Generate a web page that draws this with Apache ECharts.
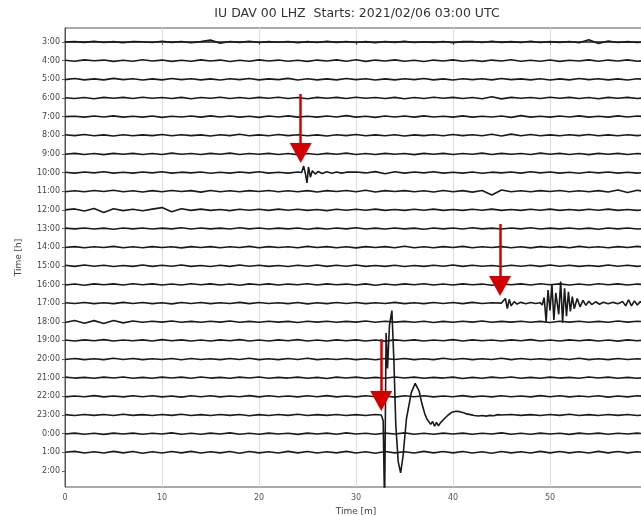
<!DOCTYPE html>
<html>
<head>
<meta charset="utf-8">
<script src="https://cdn.jsdelivr.net/npm/echarts@6/dist/echarts.min.js"></script>
<style>
  html, body { margin: 0; padding: 0; background: #fff; }
  #chart { width: 641px; height: 516px; }
</style>
</head>
<body>
<div id="chart"></div>
<script>
// 每条迹线的起始时刻（每小时一行）
var hours = ['3:00', '4:00', '5:00', '6:00', '7:00', '8:00', '9:00', '10:00', '11:00', '12:00',
  '13:00', '14:00', '15:00', '16:00', '17:00', '18:00', '19:00', '20:00', '21:00', '22:00',
  '23:00', '0:00', '1:00', '2:00'];
var minuteTicks = [0, 10, 20, 30, 40, 50];

// 背景噪声，每分钟一个值（单位：行距的百分之一，向上为正）
var n0  = [0,3,-2,4,-3,2,-4,3,1,-3, 4,-2,3,-4,2,10,-7,3,-2,4, -3,2,-1,3,-4,2,-3,4,-2,3, -3,2,-4,3,-2,4,-3,1,-2,3, -4,2,3,-3,4,-2,2,-3,4,-3, 2,-2,3,-4,12,-8,5,-3,2,-3, 1];
var n1  = [2,-3,4,-1,3,-4,2,-3,5,-2, 3,-4,2,-3,4,-2,3,-5,2,-3, 4,-2,3,-3,2,-4,3,-2,4,-3, 5,-4,3,-2,4,-3,2,-5,3,-2, 4,-3,2,-4,3,-2,5,-3,2,-3, 3,-4,2,-2,4,-3,3,-2,4,-3, 2];
var n2  = [-2,4,-3,2,-3,5,-2,3,-4,2, -3,4,-2,3,-3,2,-4,3,-2,4, -3,2,-2,5,-4,3,-3,2,-3,4, -2,3,-4,2,-3,3,-2,4,-3,2, -4,3,-2,3,-3,4,-2,2,-3,3, -4,2,-3,4,-2,3,-3,2,-4,3, -2];
var n3  = [1,-3,2,-4,3,-2,3,-3,4,-2, 2,-3,3,-4,2,-2,4,-3,2,-3, 3,-2,4,-3,2,-4,3,-2,3,-3, 4,-2,2,-3,3,-4,2,-3,4,-2, 3,-3,2,-4,6,-5,3,-2,2,-3, 4,-2,3,-3,2,-4,3,-2,3,-3, 2];
var n4  = [0,2,-3,3,-2,4,-3,2,-3,3, -4,2,-2,3,-3,4,-2,3,-3,2, -4,3,-2,4,-3,2,-3,3,-2,5, -3,2,-4,3,-2,3,-3,4,-2,2, -3,4,-3,2,-2,3,-4,5,-3,2, -3,3,-2,4,-3,2,-3,4,-2,3, -2];
var n5  = [3,-2,4,-3,2,-4,3,-3,2,-2, 4,-3,3,-2,2,-4,3,-2,5,-3, 2,-3,4,-2,3,-3,2,-4,3,-2, 4,-3,2,-3,3,-4,2,-2,3,-3, 4,-2,3,-3,5,-4,6,-3,4,-3, 2,-3,3,-2,4,-3,2,-3,3,-2, 4];
var n6  = [-2,3,-3,2,-4,3,-2,3,-3,2, -3,4,-2,2,-3,3,-2,4,-3,2, -2,3,-3,2,-4,2,-3,3,-2,4, -3,2,-3,3,-2,2,-4,3,-2,3, -3,2,-2,4,-3,3,-2,2,-3,4, -2,3,-3,2,-4,3,-2,3,-3,2, -3];
var n7  = [2,-3,3,-2,4,-3,2,-3,3,-2, 4,-3,2,-2,3,-4,2,-3,3,-2, 4,-3,2,-3,3,-2,4,-3,2,-3, 3,-2,5,-6,4,-3,3,-2,4,-3, 2,-3,3,-4,2,-2,3,-3,4,-2, 3,-3,2,-4,3,-2,3,-3,2,-3, 2];
var n8  = [-3,2,-3,4,-2,5,-3,2,-4,3, -3,4,-2,3,-5,4,-3,2,-3,3, -2,4,-3,2,-3,3,-4,3,-2,4, -3,5,-4,3,-2,3,-3,2,-4,4, -3,3,-5,4,-20,6,-3,2,-3,3, -2,4,-3,2,-3,3,-4,6,-7,5, -3];
var n9  = [0,5,-6,7,-14,6,-4,3,-5,4, 12,-10,6,-3,4,-3,2,-4,3,-2, 3,-3,4,-2,3,-3,2,-4,3,-2, 3,-2,4,-3,2,-3,3,-2,4,-3, 2,-3,3,-2,4,-3,2,-3,3,-2, 4,-3,2,-3,3,-2,4,-3,2,-3, 3];
var n10 = [2,-2,3,-3,2,-4,3,-2,3,-3, 2,-2,4,-3,3,-2,2,-3,4,-2, 3,-3,2,-2,3,-4,2,-3,3,-2, 4,-3,2,-3,3,-2,2,-4,3,-2, 3,-3,4,-2,2,-3,3,-2,4,-3, 2,-2,3,-3,2,-4,3,-2,3,-3, 2];
var n11 = [-2,3,-3,2,-2,4,-3,2,-3,3, -2,2,-4,3,-2,3,-3,2,-2,4, -3,3,-2,2,-3,4,-2,3,-3,2, -4,3,-2,3,-3,5,-3,2,-3,3, -2,4,-3,2,-2,3,-3,2,-4,3, -2,3,-3,4,-2,2,-3,3,-2,4, -3];
var n12 = [3,-3,4,-2,3,-4,2,-3,4,-3, 3,-2,4,-3,2,-4,3,-3,4,-2, 3,-3,2,-4,3,-2,4,-3,3,-2, 4,-3,2,-3,3,-4,2,-3,3,-2, 4,-3,3,-2,2,-4,3,-2,3,-3, 4,-2,3,-3,2,-3,4,-2,3,-3, 2];
var n13 = [-3,2,-4,3,-2,3,-3,4,-2,3, -3,2,-3,4,-2,3,-3,2,-4,3, -2,3,-3,2,-2,4,-3,3,-2,2, -3,3,-4,2,-3,3,-2,4,-3,2, -3,3,-2,2,-4,3,-2,3,-3,4, -2,3,-3,2,-3,4,-2,3,-3,2, -2];
var n14 = [2,-2,3,-3,2,-3,4,-2,3,-3, 2,-4,3,-2,3,-3,2,-2,4,-3, 3,-2,2,-3,3,-4,2,-3,3,-2, 3,-3,2,-2,4,-3,2,-3,3,-2, 3,-3,4,-2,2,-3,3,-2,3,-3, 2,-3,3,-2,4,-3,2,-3,3,-2, 3];
var n15 = [-4,7,-8,6,-9,7,-6,4,-3,3, -2,4,-3,2,-3,3,-2,4,-3,2, -3,3,-2,2,-4,3,-2,3,-3,2, -2,4,-3,3,-2,2,-3,3,-4,2, -3,3,-2,4,-3,2,-2,3,-3,2, -4,3,-2,3,-3,2,-3,4,-2,3, -2];
var n16 = [2,-3,3,-2,4,-3,2,-2,3,-3, 4,-2,3,-3,2,-3,3,-2,4,-3, 2,-3,3,-2,4,-3,2,-3,3,-2, 3,-3,2,-4,3,-2,3,-3,2,-2, 4,-3,3,-2,2,-3,3,-2,4,-3, 2,-3,3,-2,3,-3,2,-4,3,-2, 3];
var n17 = [-2,3,-3,2,-3,4,-2,3,-3,2, -2,3,-4,3,-2,2,-3,3,-2,4, -3,2,-3,3,-2,4,-3,2,-2,3, -3,2,-4,3,-2,3,-3,2,-3,4, -2,3,-3,2,-2,4,-3,3,-2,2, -3,3,-2,4,-3,2,-3,3,-2,2, -3];
var n18 = [3,-2,2,-3,3,-2,4,-3,2,-3, 3,-2,3,-3,4,-2,2,-3,3,-2, 4,-3,2,-2,3,-3,2,-4,3,-2, 3,-3,2,-3,4,-2,3,-3,2,-2, 3,-4,2,-3,3,-2,4,-3,2,-3, 3,-2,2,-3,4,-2,3,-3,2,-3, 2];
var n19 = [-3,2,-2,4,-3,2,-3,3,-2,3, -3,2,-4,3,-2,3,-3,2,-2,4, -3,3,-2,2,-3,3,-2,4,-3,2, -3,3,-2,2,-4,3,-2,3,-3,2, -2,4,-3,2,-3,3,-2,2,-3,4, -2,3,-3,2,-2,3,-4,2,-3,3, -2];
var n20 = [2,-3,3,-2,3,-3,4,-2,2,-3, 3,-2,4,-3,2,-3,3,-2,3,-4, 2,-3,3,-2,4,-3,2,-2,3,-3, 2,-3,3,-2,3,-3,2,-4,3,-2, 3,-3,2,-2,4,-3,3,-2,2,-3, 3,-2,4,-3,2,-3,3,-2,3,-3, 2];
var n21 = [-2,3,-3,2,-4,3,-2,3,-3,2, -2,4,-3,2,-3,3,-2,4,-3,2, -3,3,-2,2,-4,3,-2,3,-3,4, -2,2,-3,3,-2,4,-3,2,-3,3, -2,3,-3,2,-2,4,-3,2,-3,3, -2,2,-4,3,-2,3,-3,2,-2,3, -3];
var n22 = [0,5,-4,3,-4,5,-3,4,-5,3, -4,4,-3,5,-4,3,-3,4,-5,4, -3,3,-4,5,-3,4,-4,3,-3,5, -4,3,-5,4,-3,3,-4,5,-3,4, -3,4,-4,3,-5,4,-3,3,-4,5, -3,4,-3,3,-4,5,-3,4,-3,3, -4];
var noise = [n0, n1, n2, n3, n4, n5, n6, n7, n8, n9, n10, n11, n12, n13, n14, n15, n16, n17, n18, n19, n20, n21, n22];

// 地震事件段 [分钟, 振幅(行距的百分之一)]
var ev1000 = [[24.4,0],[24.6,35],[24.8,-10],[24.95,-55],[25.1,30],[25.3,-25],[25.5,10],[25.8,-8],[26.1,6],
  [26.5,-5],[27,4],[27.5,-4],[28,3],[28.5,-3],[29,2]];
var ev1700 = [[45,0],[45.2,-8],[45.4,25],[45.6,-30],[45.8,20],[46,-15],[46.3,8],[46.6,-5],[47,4],[47.5,-3],
  [48,3],[48.5,-2],[49,2],[49.2,-10],[49.4,30],[49.6,-100],[49.8,70],[50,-40],[50.2,100],[50.4,-90],
  [50.6,55],[50.9,-60],[51.1,115],[51.3,-105],[51.5,80],[51.7,-70],[51.9,60],[52.1,-45],[52.3,35],
  [52.5,-30],[52.8,25],[53.1,-20],[53.4,15],[53.7,-12],[54,10],[54.3,-8],[54.7,7],[55.1,-6],[55.5,5],
  [56,-4],[56.5,4],[57,-3],[57.5,8],[57.8,-15],[58.1,18],[58.4,-15],[58.7,12],[59,-10],[59.3,8],[59.6,-5],[60,3]];
var ev2300 = [[32.6,0],[32.8,-30],[32.95,-500],[33.1,440],[33.25,250],[33.45,480],[33.7,560],[33.9,300],
  [34.1,-50],[34.35,-250],[34.6,-310],[34.85,-220],[35.2,-20],[35.7,120],[36.1,170],[36.3,160],[36.5,130],
  [36.8,60],[37.1,5],[37.3,-20],[37.5,-15],[37.7,-50],[37.9,-35],[38.1,-60],[38.3,-40],[38.5,-58],[38.7,-42],
  [38.9,-45],[39.1,-20],[39.3,-25],[39.5,0],[39.7,-5],[39.9,15],[40.1,10],[40.3,20],[40.5,12],[40.7,18],
  [40.9,8],[41.1,12],[41.4,6],[41.8,2],[42.2,-3],[42.6,-5],[43,-3],[43.4,-6],[43.8,-2],[44.2,-4],[44.6,2],[45,0]];
var eventTrace = [7, 14, 20];
var eventData = [ev1000, ev1700, ev2300];

// 红色箭头：x(分钟)、起点行、终点行
var arrowX = [24.3, 44.85, 32.6];
var arrowFrom = [2.79, 9.76, 15.93];
var arrowTo = [5.95, 13.08, 19.25];

function traceData(i) {
  var k = eventTrace.indexOf(i);
  var ev = k >= 0 ? eventData[k] : null;
  var pts = [];
  noise[i].forEach(function (v, t) {
    if (ev && t >= ev[0][0] && t <= ev[ev.length - 1][0]) return;
    pts.push([t, v]);
  });
  if (ev) ev.forEach(function (p) { pts.push([p[0], p[1]]); });
  pts.sort(function (a, b) { return a[0] - b[0]; });
  return pts.map(function (p) { return [p[0], i - p[1] / 100]; });
}

var chart = echarts.init(document.getElementById('chart'));
var hourIdx = hours.map(function (h, i) { return i; });

var series = noise.map(function (n, i) {
  return {
    type: 'line',
    data: traceData(i),
    symbol: 'none',
    lineStyle: { color: '#1a1a1a', width: 1.6 },
    z: 3
  };
});
series.push({
  type: 'line',
  data: [],
  z: 10,
  markLine: {
    silent: true,
    symbol: ['none', 'triangle'],
    symbolSize: [22, 20],
    label: { show: false },
    lineStyle: { color: '#d40000', width: 2.5, type: 'solid' },
    itemStyle: { color: '#d40000' },
    data: arrowX.map(function (x, i) {
      return [{ coord: [x, arrowFrom[i]] }, { coord: [x, arrowTo[i]] }];
    })
  }
});

chart.setOption({
  animation: false,
  textStyle: { fontFamily: 'DejaVu Sans' },
  title: {
    text: 'IU DAV 00 LHZ  Starts: 2021/02/06 03:00 UTC',
    left: 357,
    top: 7,
    padding: 0,
    textAlign: 'center',
    textStyle: { fontSize: 12.5, fontWeight: 'normal', color: '#333', fontFamily: 'DejaVu Sans' }
  },
  grid: {
    left: 65, top: 28, right: -6, bottom: 29,
    show: true, borderColor: '#555', borderWidth: 1,
    outerBoundsMode: 'none'
  },
  xAxis: {
    type: 'value',
    min: 0, max: 60, interval: 10,
    name: 'Time [m]',
    nameLocation: 'middle',
    nameGap: 20,
    nameTextStyle: { fontSize: 9, color: '#444' },
    axisLine: { lineStyle: { color: '#555', width: 2 } },
    axisTick: { length: 3, lineStyle: { color: '#666' }, customValues: minuteTicks },
    axisLabel: { fontSize: 8, color: '#555', margin: 7, customValues: minuteTicks },
    splitLine: { show: true, lineStyle: { color: '#ddd', width: 1 } }
  },
  yAxis: {
    type: 'value',
    inverse: true,
    min: -0.75, max: 23.86,
    name: 'Time [h]',
    nameLocation: 'middle',
    nameGap: 42,
    nameRotate: 90,
    nameTextStyle: { fontSize: 9, color: '#444' },
    axisLine: { show: true, lineStyle: { color: '#555', width: 1 } },
    axisTick: { show: true, length: 3, lineStyle: { color: '#666' }, customValues: hourIdx },
    axisLabel: {
      fontSize: 8, color: '#444', margin: 5, customValues: hourIdx,
      formatter: function (v) { return hours[Math.round(v)]; }
    },
    splitLine: { show: false }
  },
  series: series
});
</script>
</body>
</html>
